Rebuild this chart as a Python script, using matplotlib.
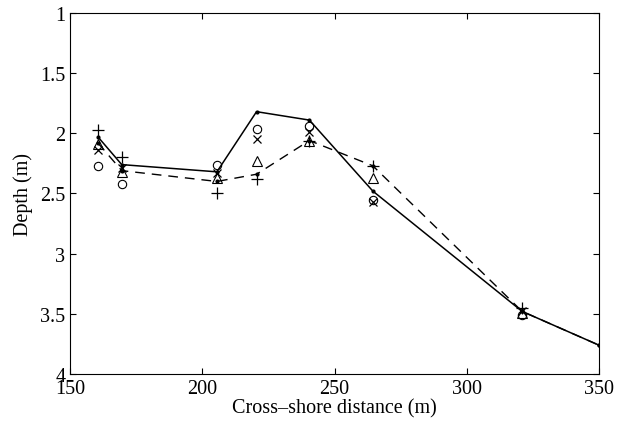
import matplotlib.pyplot as plt

# Perfis de profundidade ao longo da seção transversal
x_perfil = [160.5, 169.5, 205.5, 220.5, 240.5, 264.5, 321, 350]
prof_continua = [2.03, 2.26, 2.32, 1.82, 1.89, 2.48, 3.48, 3.76]
prof_tracejada = [2.08, 2.31, 2.40, 2.34, 2.06, 2.27, 3.48, 3.76]

# Pontos medidos (marcadores isolados)
x_med = [160.5, 169.5, 205.5, 220.5, 240.5, 264.5, 321]
prof_mais = [1.97, 2.20, 2.50, 2.38, 2.06, 2.27, 3.45]
prof_xis = [2.14, 2.29, 2.33, 2.05, 1.99, 2.57, 3.48]
prof_circ = [2.27, 2.42, 2.26, 1.96, 1.94, 2.55, 3.51]
prof_tri = [2.09, 2.32, 2.37, 2.23, 2.06, 2.37, 3.49]

x_ticks = [150, 200, 250, 300, 350]
y_ticks = [1, 1.5, 2, 2.5, 3, 3.5, 4]
y_labels = ['1', '1.5', '2', '2.5', '3', '3.5', '4']

plt.rcParams['font.family'] = ['Liberation Serif', 'DejaVu Serif']

fig = plt.figure(figsize=(6.27, 4.31), dpi=100)
ax = fig.add_axes([0.112, 0.13, 0.843, 0.8375])

ax.plot(x_perfil, prof_continua, '-', color='black', lw=1.1,
        marker='.', ms=4)
ax.plot(x_perfil, prof_tracejada, '--', color='black', lw=1.0,
        marker='.', ms=4, dashes=(7, 5))

ax.plot(x_med, prof_mais, '+', color='black', ms=9, mew=0.9)
ax.plot(x_med, prof_xis, 'x', color='black', ms=6, mew=0.9)
ax.plot(x_med, prof_circ, 'o', color='black', mfc='none', ms=6, mew=0.8)
ax.plot(x_med, prof_tri, '^', color='black', mfc='none', ms=6.5, mew=0.8)

ax.set_xlim(150, 350)
ax.set_ylim(4, 1)
ax.set_xticks(x_ticks)
ax.set_yticks(y_ticks)
ax.set_yticklabels(y_labels)
ax.tick_params(direction='in', top=True, right=True, length=4,
               labelsize=14.5, width=0.8)
ax.set_xlabel('Cross\u2013shore distance (m)', fontsize=14.5, labelpad=0)
ax.set_ylabel('Depth (m)', fontsize=14.5, labelpad=5)

plt.savefig('out.png', dpi=100)
